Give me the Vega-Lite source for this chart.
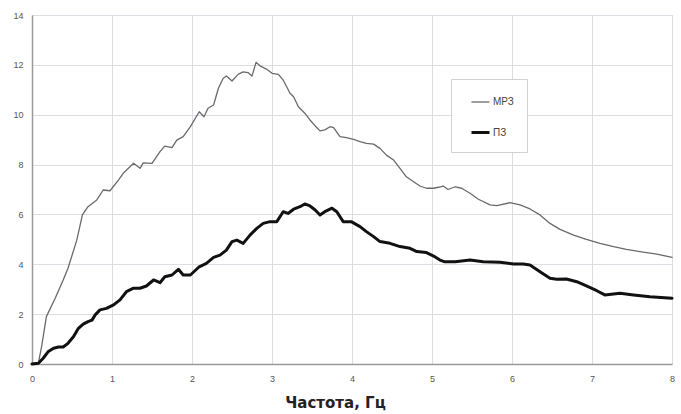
{
  "$schema": "https://vega.github.io/schema/vega-lite/v6.json",
  "width": 640,
  "height": 349,
  "autosize": "none",
  "padding": {"left": 32, "top": 15, "right": 9, "bottom": 50},
  "background": "white",
  "config": {
    "view": {"stroke": "#c9cbd0", "strokeWidth": 1},
    "axis": {"labelFont": "Liberation Sans", "labelFontSize": 9, "labelColor": "#555", "gridColor": "#dcdee3", "gridWidth": 1, "ticks": false, "domainColor": "#9a9a9a", "domainWidth": 1.5}
  },
  "data": {"values": [
    {"s":"МРЗ","f":0,"v":0},{"s":"МРЗ","f":0.08,"v":0.05},{"s":"МРЗ","f":0.12,"v":0.7},{"s":"МРЗ","f":0.18,"v":1.9},{"s":"МРЗ","f":0.29,"v":2.64},{"s":"МРЗ","f":0.39,"v":3.37},{"s":"МРЗ","f":0.45,"v":3.84},{"s":"МРЗ","f":0.56,"v":4.97},{"s":"МРЗ","f":0.63,"v":5.98},{"s":"МРЗ","f":0.70,"v":6.31},{"s":"МРЗ","f":0.81,"v":6.58},{"s":"МРЗ","f":0.89,"v":6.98},{"s":"МРЗ","f":0.975,"v":6.95},{"s":"МРЗ","f":1.08,"v":7.38},{"s":"МРЗ","f":1.14,"v":7.65},{"s":"МРЗ","f":1.27,"v":8.05},{"s":"МРЗ","f":1.35,"v":7.85},{"s":"МРЗ","f":1.39,"v":8.07},{"s":"МРЗ","f":1.50,"v":8.05},{"s":"МРЗ","f":1.6,"v":8.52},{"s":"МРЗ","f":1.66,"v":8.74},{"s":"МРЗ","f":1.75,"v":8.68},{"s":"МРЗ","f":1.81,"v":8.98},{"s":"МРЗ","f":1.89,"v":9.12},{"s":"МРЗ","f":1.98,"v":9.52},{"s":"МРЗ","f":2.09,"v":10.12},{"s":"МРЗ","f":2.15,"v":9.92},{"s":"МРЗ","f":2.20,"v":10.26},{"s":"МРЗ","f":2.27,"v":10.39},{"s":"МРЗ","f":2.33,"v":11.06},{"s":"МРЗ","f":2.39,"v":11.46},{"s":"МРЗ","f":2.43,"v":11.55},{"s":"МРЗ","f":2.50,"v":11.35},{"s":"МРЗ","f":2.58,"v":11.63},{"s":"МРЗ","f":2.64,"v":11.72},{"s":"МРЗ","f":2.70,"v":11.69},{"s":"МРЗ","f":2.75,"v":11.55},{"s":"МРЗ","f":2.80,"v":12.10},{"s":"МРЗ","f":2.85,"v":11.96},{"s":"МРЗ","f":2.93,"v":11.83},{"s":"МРЗ","f":3.0,"v":11.66},{"s":"МРЗ","f":3.08,"v":11.62},{"s":"МРЗ","f":3.14,"v":11.39},{"s":"МРЗ","f":3.225,"v":10.86},{"s":"МРЗ","f":3.27,"v":10.72},{"s":"МРЗ","f":3.33,"v":10.32},{"s":"МРЗ","f":3.41,"v":10.06},{"s":"МРЗ","f":3.475,"v":9.79},{"s":"МРЗ","f":3.54,"v":9.55},{"s":"МРЗ","f":3.60,"v":9.35},{"s":"МРЗ","f":3.66,"v":9.39},{"s":"МРЗ","f":3.725,"v":9.52},{"s":"МРЗ","f":3.77,"v":9.48},{"s":"МРЗ","f":3.85,"v":9.12},{"s":"МРЗ","f":3.93,"v":9.08},{"s":"МРЗ","f":4.02,"v":9.01},{"s":"МРЗ","f":4.1,"v":8.92},{"s":"МРЗ","f":4.18,"v":8.85},{"s":"МРЗ","f":4.27,"v":8.82},{"s":"МРЗ","f":4.35,"v":8.65},{"s":"МРЗ","f":4.43,"v":8.38},{"s":"МРЗ","f":4.52,"v":8.18},{"s":"МРЗ","f":4.6,"v":7.85},{"s":"МРЗ","f":4.68,"v":7.51},{"s":"МРЗ","f":4.77,"v":7.31},{"s":"МРЗ","f":4.85,"v":7.14},{"s":"МРЗ","f":4.93,"v":7.05},{"s":"МРЗ","f":5.02,"v":7.05},{"s":"МРЗ","f":5.08,"v":7.09},{"s":"МРЗ","f":5.14,"v":7.14},{"s":"МРЗ","f":5.2,"v":7.0},{"s":"МРЗ","f":5.29,"v":7.11},{"s":"МРЗ","f":5.37,"v":7.05},{"s":"МРЗ","f":5.475,"v":6.85},{"s":"МРЗ","f":5.58,"v":6.61},{"s":"МРЗ","f":5.725,"v":6.38},{"s":"МРЗ","f":5.81,"v":6.35},{"s":"МРЗ","f":5.975,"v":6.47},{"s":"МРЗ","f":6.1,"v":6.38},{"s":"МРЗ","f":6.225,"v":6.22},{"s":"МРЗ","f":6.35,"v":5.98},{"s":"МРЗ","f":6.475,"v":5.64},{"s":"МРЗ","f":6.6,"v":5.40},{"s":"МРЗ","f":6.77,"v":5.17},{"s":"МРЗ","f":6.93,"v":5.00},{"s":"МРЗ","f":7.1,"v":4.84},{"s":"МРЗ","f":7.27,"v":4.71},{"s":"МРЗ","f":7.43,"v":4.60},{"s":"МРЗ","f":7.6,"v":4.51},{"s":"МРЗ","f":7.81,"v":4.41},{"s":"МРЗ","f":8.0,"v":4.28},
    {"s":"ПЗ","f":0,"v":0},{"s":"ПЗ","f":0.08,"v":0.03},{"s":"ПЗ","f":0.14,"v":0.23},{"s":"ПЗ","f":0.2,"v":0.49},{"s":"ПЗ","f":0.27,"v":0.63},{"s":"ПЗ","f":0.33,"v":0.68},{"s":"ПЗ","f":0.39,"v":0.68},{"s":"ПЗ","f":0.45,"v":0.83},{"s":"ПЗ","f":0.52,"v":1.10},{"s":"ПЗ","f":0.58,"v":1.43},{"s":"ПЗ","f":0.64,"v":1.60},{"s":"ПЗ","f":0.70,"v":1.70},{"s":"ПЗ","f":0.75,"v":1.76},{"s":"ПЗ","f":0.79,"v":1.97},{"s":"ПЗ","f":0.85,"v":2.17},{"s":"ПЗ","f":0.93,"v":2.23},{"s":"ПЗ","f":1.02,"v":2.37},{"s":"ПЗ","f":1.1,"v":2.57},{"s":"ПЗ","f":1.18,"v":2.90},{"s":"ПЗ","f":1.27,"v":3.04},{"s":"ПЗ","f":1.35,"v":3.04},{"s":"ПЗ","f":1.43,"v":3.13},{"s":"ПЗ","f":1.52,"v":3.37},{"s":"ПЗ","f":1.6,"v":3.26},{"s":"ПЗ","f":1.66,"v":3.50},{"s":"ПЗ","f":1.75,"v":3.57},{"s":"ПЗ","f":1.83,"v":3.80},{"s":"ПЗ","f":1.89,"v":3.57},{"s":"ПЗ","f":1.98,"v":3.57},{"s":"ПЗ","f":2.09,"v":3.90},{"s":"ПЗ","f":2.18,"v":4.04},{"s":"ПЗ","f":2.27,"v":4.28},{"s":"ПЗ","f":2.35,"v":4.37},{"s":"ПЗ","f":2.43,"v":4.57},{"s":"ПЗ","f":2.5,"v":4.91},{"s":"ПЗ","f":2.56,"v":4.97},{"s":"ПЗ","f":2.64,"v":4.84},{"s":"ПЗ","f":2.725,"v":5.17},{"s":"ПЗ","f":2.81,"v":5.44},{"s":"ПЗ","f":2.89,"v":5.64},{"s":"ПЗ","f":2.975,"v":5.71},{"s":"ПЗ","f":3.06,"v":5.71},{"s":"ПЗ","f":3.14,"v":6.11},{"s":"ПЗ","f":3.2,"v":6.04},{"s":"ПЗ","f":3.27,"v":6.21},{"s":"ПЗ","f":3.35,"v":6.31},{"s":"ПЗ","f":3.41,"v":6.42},{"s":"ПЗ","f":3.475,"v":6.34},{"s":"ПЗ","f":3.54,"v":6.18},{"s":"ПЗ","f":3.6,"v":5.98},{"s":"ПЗ","f":3.66,"v":6.11},{"s":"ПЗ","f":3.75,"v":6.25},{"s":"ПЗ","f":3.81,"v":6.11},{"s":"ПЗ","f":3.89,"v":5.71},{"s":"ПЗ","f":3.99,"v":5.71},{"s":"ПЗ","f":4.1,"v":5.51},{"s":"ПЗ","f":4.18,"v":5.31},{"s":"ПЗ","f":4.27,"v":5.11},{"s":"ПЗ","f":4.35,"v":4.91},{"s":"ПЗ","f":4.475,"v":4.84},{"s":"ПЗ","f":4.6,"v":4.71},{"s":"ПЗ","f":4.725,"v":4.64},{"s":"ПЗ","f":4.81,"v":4.51},{"s":"ПЗ","f":4.93,"v":4.47},{"s":"ПЗ","f":5.02,"v":4.33},{"s":"ПЗ","f":5.1,"v":4.17},{"s":"ПЗ","f":5.16,"v":4.10},{"s":"ПЗ","f":5.29,"v":4.10},{"s":"ПЗ","f":5.475,"v":4.17},{"s":"ПЗ","f":5.64,"v":4.10},{"s":"ПЗ","f":5.85,"v":4.08},{"s":"ПЗ","f":6.02,"v":4.01},{"s":"ПЗ","f":6.14,"v":4.01},{"s":"ПЗ","f":6.225,"v":3.97},{"s":"ПЗ","f":6.35,"v":3.70},{"s":"ПЗ","f":6.475,"v":3.44},{"s":"ПЗ","f":6.56,"v":3.40},{"s":"ПЗ","f":6.68,"v":3.41},{"s":"ПЗ","f":6.81,"v":3.30},{"s":"ПЗ","f":6.93,"v":3.13},{"s":"ПЗ","f":7.06,"v":2.94},{"s":"ПЗ","f":7.16,"v":2.77},{"s":"ПЗ","f":7.35,"v":2.84},{"s":"ПЗ","f":7.52,"v":2.77},{"s":"ПЗ","f":7.725,"v":2.70},{"s":"ПЗ","f":8.0,"v":2.64}
  ]},
  "mark": {"type": "line", "strokeJoin": "round", "strokeCap": "round"},
  "encoding": {
    "x": {"field": "f", "type": "quantitative", "scale": {"domain": [0, 8], "nice": false},
      "axis": {"values": [0,1,2,3,4,5,6,7,8], "format": "d", "labelPadding": 10, "title": "Частота, Гц", "titleFont": "DejaVu Sans", "titleFontWeight": "bold", "titleFontSize": 15, "titleColor": "#222", "titleX": 303, "titleY": 43, "titleBaseline": "alphabetic", "titleAlign": "center", "labelFlush": false}},
    "y": {"field": "v", "type": "quantitative", "scale": {"domain": [0, 14], "nice": false},
      "axis": {"values": [0,2,4,6,8,10,12,14], "labelPadding": 9, "title": null}},
    "color": {"field": "s", "type": "nominal", "scale": {"domain": ["МРЗ", "ПЗ"], "range": ["#6a6a6a", "#111111"]},
      "legend": {"title": null, "orient": "none", "legendX": 419, "legendY": 64, "strokeColor": "#cfd1d5", "fillColor": "white", "padding": 13, "symbolType": "stroke", "symbolSize": 324, "symbolOffset": 6, "rowPadding": 15, "labelFont": "Liberation Sans", "labelFontSize": 10, "labelColor": "#444", "labelOffset": 2}},
    "strokeWidth": {"field": "s", "type": "nominal", "scale": {"domain": ["МРЗ", "ПЗ"], "range": [1.3, 3]}, "legend": null},
    "order": {"field": "f", "type": "quantitative"}
  }
}
